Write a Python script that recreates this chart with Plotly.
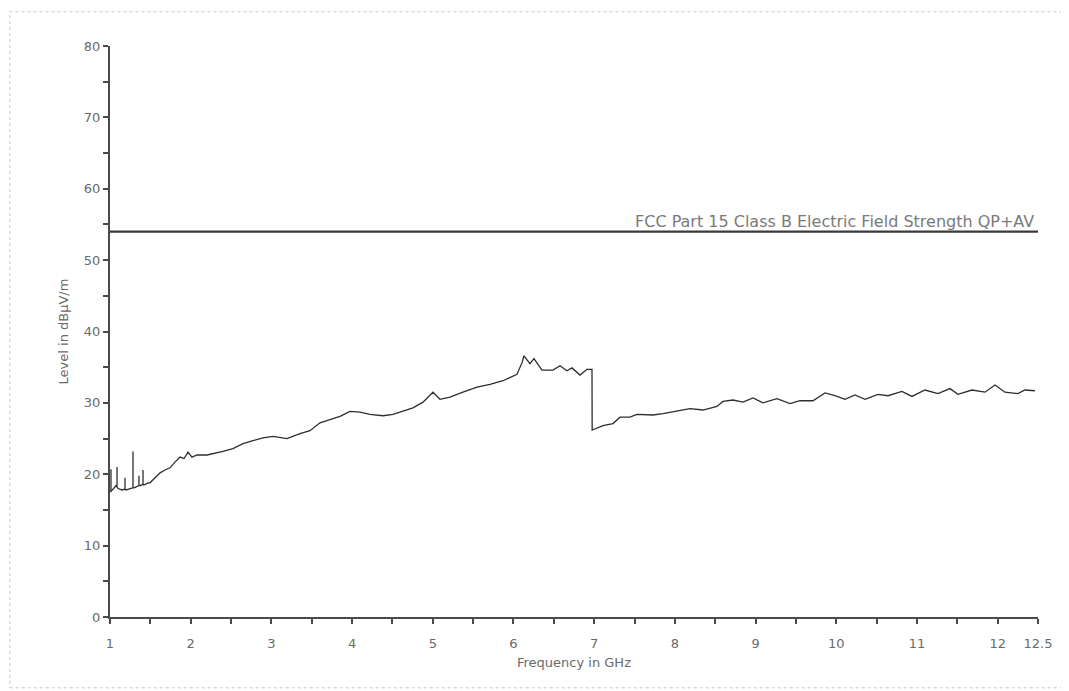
import plotly.graph_objects as go

# Measured trace: frequency (GHz) and level (dBµV/m)
freq_ghz = [1.000, 1.012, 1.012, 1.012, 1.037, 1.074, 1.087, 1.087, 1.087, 1.099,
            1.149, 1.186, 1.186, 1.186, 1.198, 1.248, 1.285, 1.285, 1.285, 1.297,
            1.347, 1.359, 1.359, 1.359, 1.372, 1.409, 1.409, 1.409, 1.421, 1.471,
            1.496, 1.558,
            1.620, 1.682, 1.743, 1.805, 1.867, 1.917, 1.967, 2.016, 2.078, 2.202,
            2.326, 2.400, 2.524, 2.648, 2.772, 2.896, 3.020, 3.193, 3.354, 3.478,
            3.602, 3.726, 3.850, 3.974, 4.098, 4.222, 4.383, 4.507, 4.631, 4.755,
            4.879, 5.002, 5.089, 5.213, 5.374, 5.548, 5.709, 5.870, 6.043, 6.105,
            6.130, 6.204, 6.254, 6.353, 6.489, 6.576, 6.663, 6.725, 6.824, 6.911,
            6.973, 6.975, 7.109, 7.233, 7.320, 7.444, 7.530, 7.729, 7.853, 8.026,
            8.187, 8.348, 8.522, 8.596, 8.720, 8.844, 8.968, 9.092, 9.265, 9.426,
            9.550, 9.711, 9.798, 9.860, 9.984, 10.108, 10.232, 10.356, 10.517, 10.641,
            10.814, 10.938, 11.099, 11.260, 11.409, 11.508, 11.681, 11.843, 11.967, 12.090,
            12.251, 12.338, 12.462]
level_dbuv = [17.5, 17.6, 20.7, 17.6, 17.9, 18.4, 18.2, 21.0, 18.2, 18.0,
              17.8, 17.9, 19.5, 17.9, 17.8, 18.0, 18.1, 23.2, 18.1, 18.1,
              18.4, 18.4, 19.8, 18.4, 18.4, 18.6, 20.6, 18.6, 18.5, 18.8,
              18.8, 19.5,
              20.2, 20.6, 20.9, 21.7, 22.4, 22.2, 23.1, 22.4, 22.7, 22.7,
              23.0, 23.2, 23.6, 24.3, 24.7, 25.1, 25.3, 25.0, 25.7, 26.1,
              27.2, 27.7, 28.1, 28.8, 28.7, 28.4, 28.2, 28.4, 28.8, 29.3,
              30.1, 31.5, 30.5, 30.8, 31.5, 32.2, 32.6, 33.1, 34.0, 35.6,
              36.6, 35.5, 36.2, 34.6, 34.6, 35.2, 34.5, 34.9, 33.9, 34.7,
              34.7, 26.2, 26.8, 27.1, 28.0, 28.0, 28.4, 28.3, 28.5, 28.9,
              29.2, 29.0, 29.5, 30.2, 30.4, 30.1, 30.7, 30.0, 30.6, 29.9,
              30.3, 30.3, 31.0, 31.4, 31.0, 30.5, 31.1, 30.5, 31.2, 31.0,
              31.6, 30.9, 31.8, 31.3, 32.0, 31.2, 31.8, 31.5, 32.5, 31.5,
              31.3, 31.8, 31.7]

# Limit line
limit_freq = [1.0, 12.5]
limit_level = [54.0, 54.0]
limit_name = "FCC Part 15 Class B Electric Field Strength QP+AV"

x_tickvals = [1, 2, 3, 4, 5, 6, 7, 8, 9, 10, 11, 12, 12.5]
x_ticktext = ["1", "2", "3", "4", "5", "6", "7", "8", "9", "10", "11", "12", "12.5"]
y_tickvals = [0, 10, 20, 30, 40, 50, 60, 70, 80]

FONT = "DejaVu Sans, Liberation Sans, Arial"

fig = go.Figure()
fig.add_trace(go.Scatter(x=limit_freq, y=limit_level, mode="lines",
                         line=dict(color="#3a3a3a", width=2.2),
                         hoverinfo="skip", showlegend=False))
fig.add_trace(go.Scatter(x=freq_ghz, y=level_dbuv, mode="lines",
                         line=dict(color="#2e2e2e", width=1.3),
                         showlegend=False))

fig.add_annotation(x=limit_freq[-1], y=limit_level[-1], xref="x", yref="y",
                   text=limit_name, showarrow=False, xanchor="right", yanchor="bottom",
                   xshift=-2, yshift=-1,
                   font=dict(family=FONT, size=16, color="#7a7a7a"))

# faint dotted page frame
fig.add_shape(type="rect", xref="paper", yref="paper",
              x0=-0.108, x1=1.026, y0=-0.124, y1=1.06,
              line=dict(color="#c8c8c8", width=1, dash="dot"))

tick_font = dict(family=FONT, size=13, color="#6a6a6a")
title_font = dict(family=FONT, size=13, color="#6a6a6a")

# the page body has an 8px margin, so the figure is sized and offset to compensate
fig.update_layout(
    width=1061, height=683,
    margin=dict(l=102, r=31, t=38, b=74),
    paper_bgcolor="white", plot_bgcolor="white",
    font=tick_font,
    xaxis=dict(range=[1, 12.5], tickmode="array", tickvals=x_tickvals, ticktext=x_ticktext,
               showgrid=False, zeroline=False, showline=True, linecolor="#4a4a4a", linewidth=2,
               ticks="outside", ticklen=5, tickcolor="#4a4a4a", tickwidth=1.5,
               minor=dict(dtick=0.5, tick0=1, ticks="outside", ticklen=5, tickcolor="#4a4a4a", tickwidth=1.5, showgrid=False),
               tickfont=tick_font, ticklabelstandoff=8,
               title=dict(text="Frequency in GHz", font=title_font, standoff=8)),
    yaxis=dict(range=[0, 80], tickmode="array", tickvals=y_tickvals,
               showgrid=False, zeroline=False, showline=True, linecolor="#4a4a4a", linewidth=2,
               ticks="outside", ticklen=5, tickcolor="#4a4a4a", tickwidth=1.5,
               minor=dict(dtick=5, tick0=0, ticks="outside", ticklen=5, tickcolor="#4a4a4a", tickwidth=1.5, showgrid=False),
               tickfont=tick_font,
               title=dict(text="Level in dBµV/m", font=title_font, standoff=12)),
)

fig.write_html("out.html")
